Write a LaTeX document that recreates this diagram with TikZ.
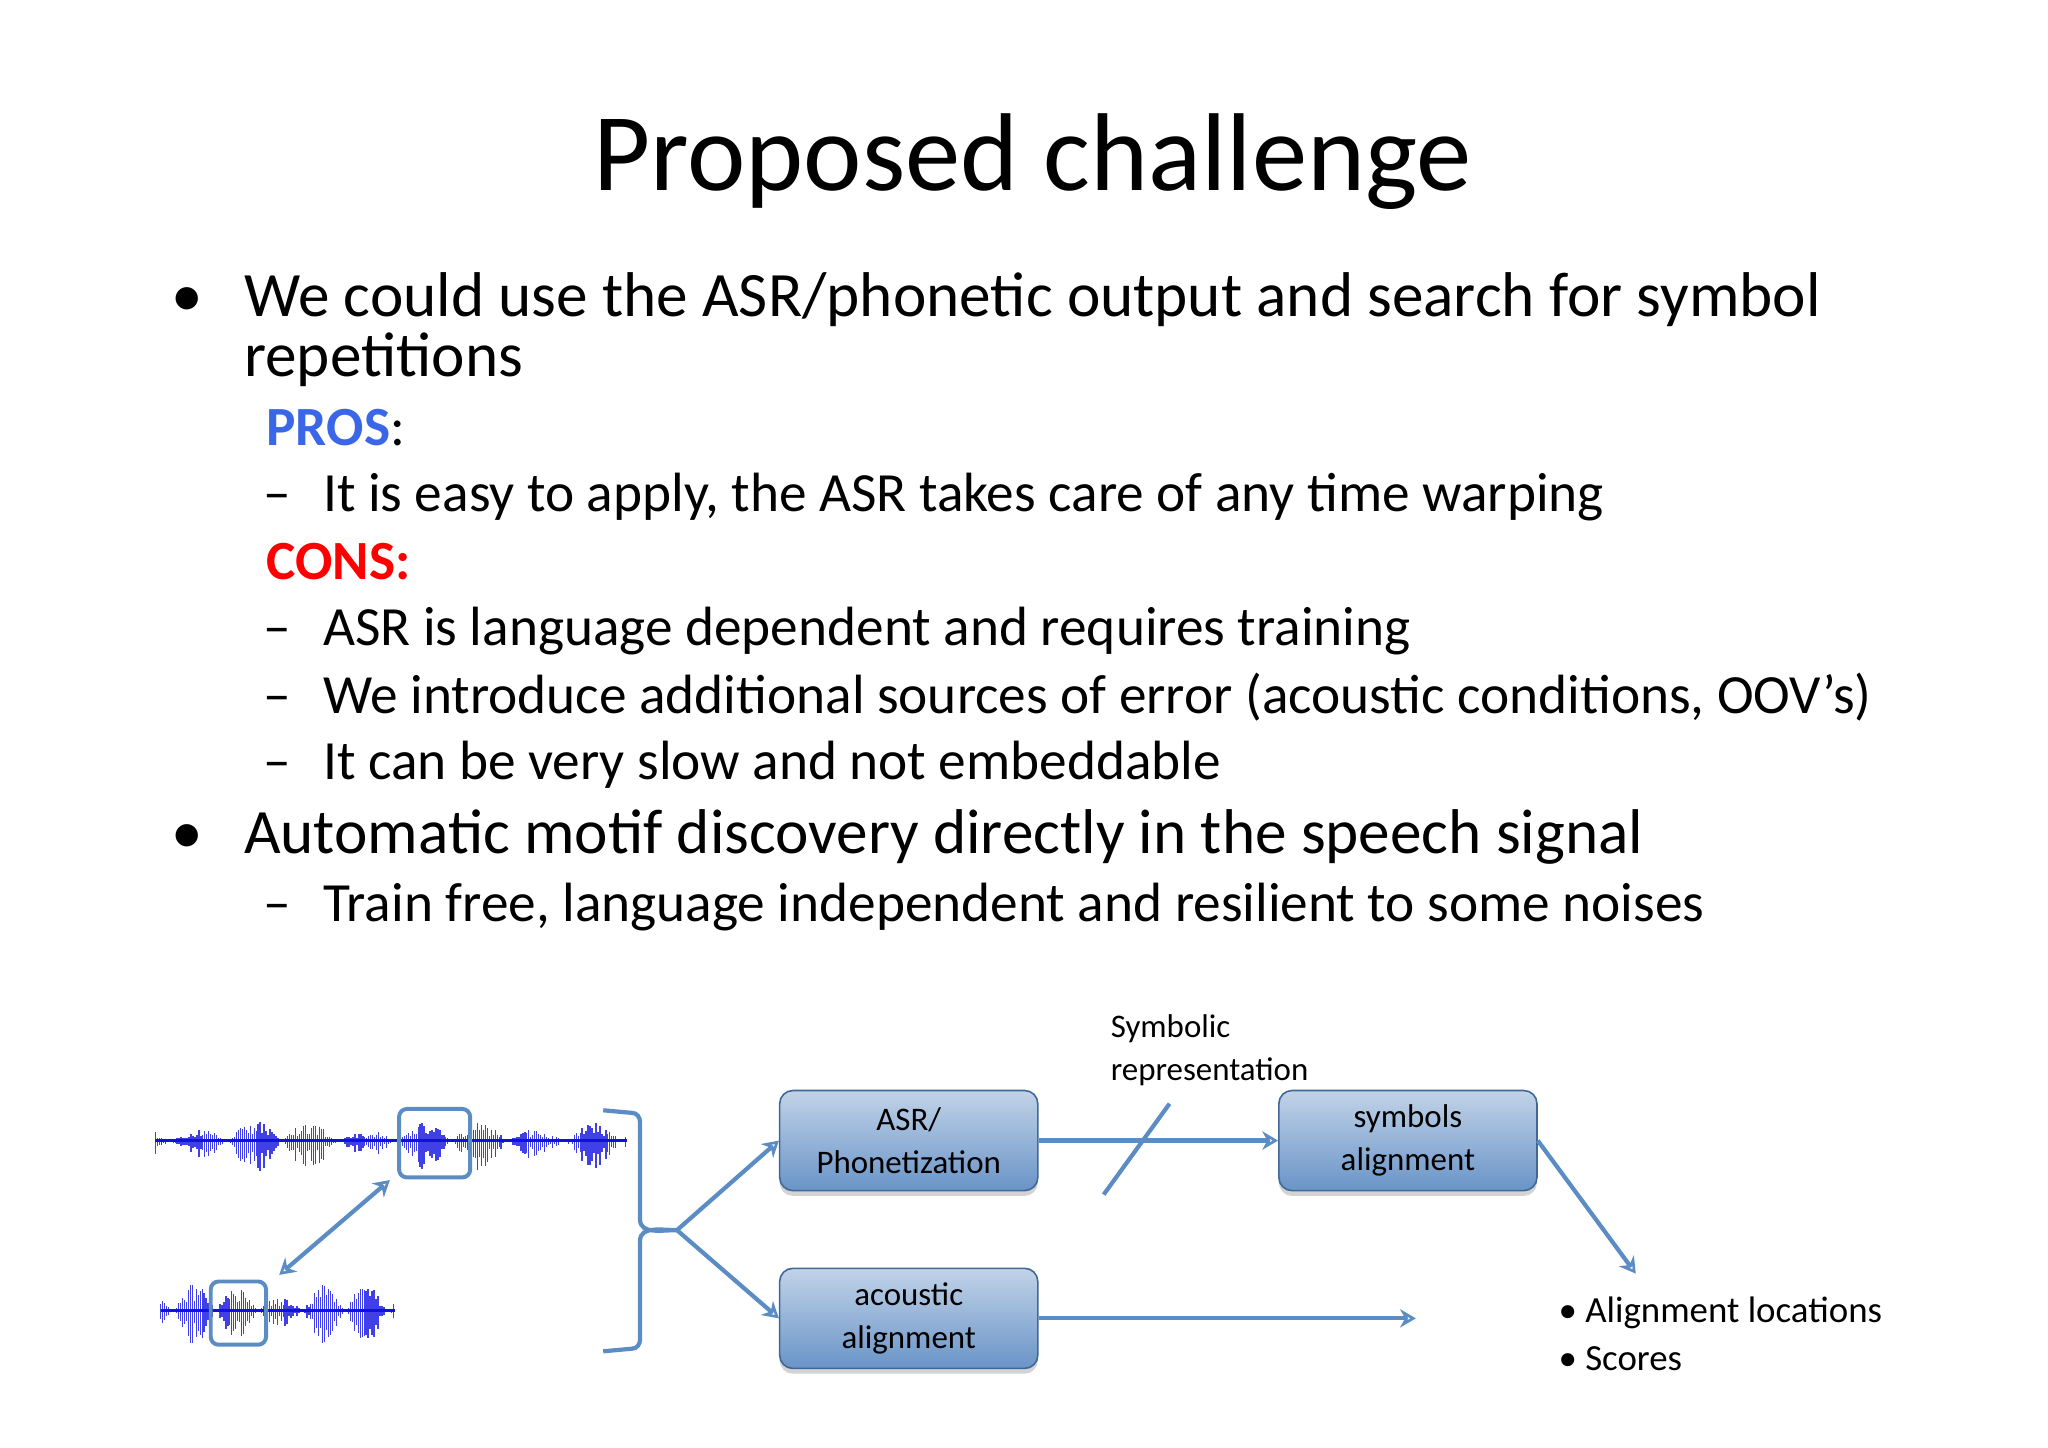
\documentclass[tikz,border=0pt]{standalone}
\usepackage{fontspec}
\setmainfont{Carlito}
\usetikzlibrary{shadows,arrows.meta}
\definecolor{ln}{HTML}{5B8CC4}
\definecolor{bx}{HTML}{4F81BD}
\definecolor{wv}{HTML}{1010E0}
\definecolor{pros}{HTML}{3A66E8}
\begin{document}
\begin{tikzpicture}[x=0.5pt,y=-0.5pt,
  txt/.style={anchor=base west,font=\fontsize{24}{28}\selectfont,inner sep=0},
  stxt/.style={anchor=base west,font=\fontsize{21}{25}\selectfont,inner sep=0},
  dtxt/.style={font=\fontsize{12.5}{16.5}\selectfont,align=center},
  box/.style={draw=bx!80!black,line width=0.6pt,rounded corners=5pt,top color=bx!35!white,bottom color=bx!85!white,minimum width=98pt,minimum height=38pt,inner sep=0,drop shadow={opacity=0.35,shadow xshift=0pt,shadow yshift=-2pt},dtxt},
  con/.style={draw=ln,line width=1.6pt,-{Stealth[open,length=6pt,width=7pt]}},
  hl/.style={draw=ln,line width=1.5pt,rounded corners=3pt}]
\useasboundingbox (0,0) rectangle (1555,1099);
\node[anchor=base,font=\fontsize{42}{48}\selectfont] (title) at (784,145) {Proposed challenge};
\node[txt] (b1) at (130,240) {•};
\node[txt] (t1) at (185,240) {We could use the ASR/phonetic output and search for symbol};
\node[txt] (t1b) at (185,286) {repetitions};
\node[stxt] (pr) at (202,338) {\textcolor{pros}{\bfseries PROS}:};
\node[stxt] (d1) at (200,388) {–};
\node[stxt] (l1) at (245,388) {It is easy to apply, the ASR takes care of any time warping};
\node[stxt,font=\fontsize{21}{25}\selectfont\bfseries,text=red] (cn) at (202,440) {CONS:};
\node[stxt] (d2) at (200,490) {–};
\node[stxt] (l2) at (245,490) {ASR is language dependent and requires training};
\node[stxt] (d3) at (200,542) {–};
\node[stxt] (l3) at (245,542) {We introduce additional sources of error (acoustic conditions, OOV’s)};
\node[stxt] (d4) at (200,592) {–};
\node[stxt] (l4) at (245,592) {It can be very slow and not embeddable};
\node[txt] (b2) at (130,648) {•};
\node[txt] (t2) at (185,648) {Automatic motif discovery directly in the speech signal};
\node[stxt] (d5) at (200,700) {–};
\node[stxt] (l5) at (245,700) {Train free, language independent and resilient to some noises};
% waveforms
\pgfmathsetseed{7}
\foreach \x in {118,119.5,...,476}{
  \pgfmathsetmacro{\e}{abs(sin(\x*4.2))^1.2*(0.4+0.6*abs(sin(\x*1.3)))}
  \pgfmathsetmacro{\a}{(rnd*0.7+0.3)*\e}
  \draw[wv!80,line width=0.5pt] (\x,866-16*\a) -- (\x,866+26*\a);}
\draw[wv,line width=1pt] (118,866) -- (476,866);
\foreach \x in {122,123.5,...,300}{
  \pgfmathsetmacro{\e}{abs(sin(\x*5.5))^1.2*(0.4+0.6*abs(sin(\x*1.7)))}
  \pgfmathsetmacro{\a}{(rnd*0.7+0.3)*\e}
  \draw[wv!80,line width=0.5pt] (\x,995-22*\a) -- (\x,995+28*\a);}
\draw[wv,line width=1pt] (122,995) -- (300,995);
\node[hl,minimum width=27pt,minimum height=26pt,inner sep=0] (h1) at (330,868) {};
\node[hl,minimum width=21pt,minimum height=24pt,inner sep=0] (h2) at (181,997) {};
\coordinate (w1) at (296,896); \coordinate (w2) at (212,968);
\draw[con,{Stealth[open,length=6pt,width=7pt]}-{Stealth[open,length=6pt,width=7pt]}] (w2) -- (w1);
% bracket
\coordinate (bt) at (514,934);
\draw[ln,line width=1.6pt] (458,843) -- (480,845) to[out=0,in=90] (486,852) -- (486,926) to[out=-90,in=180] (bt) to[out=180,in=90] (486,942) -- (486,1017) to[out=-90,in=0] (480,1024) -- (458,1026);
\node[box] (asr) at (690,866) {ASR/\\Phonetization};
\node[box] (sym) at (1069,866) {symbols\\alignment};
\node[box] (ac) at (690,1001) {acoustic\\alignment};
\draw[con] (bt) -- (asr.west);
\draw[con] (bt) -- (ac.west);
\draw[con] (asr.east) -- (sym.west);
\coordinate (s1) at (838,907); \coordinate (s2) at (888,838);
\draw[ln,line width=1.6pt] (s1) -- (s2);
\node[dtxt,align=left,anchor=north west,inner sep=0] (symrep) at (843,770) {Symbolic\\representation};
\coordinate (o1) at (1242,967); \coordinate (o2) at (1075,1001);
\draw[con] (sym.east) -- (o1);
\draw[con] (ac.east) -- (o2);
\node[anchor=north west,inner sep=0,font=\fontsize{14}{18.5}\selectfont,align=left] (res) at (1183,984) {• Alignment locations\\• Scores};
\end{tikzpicture}
\end{document}
